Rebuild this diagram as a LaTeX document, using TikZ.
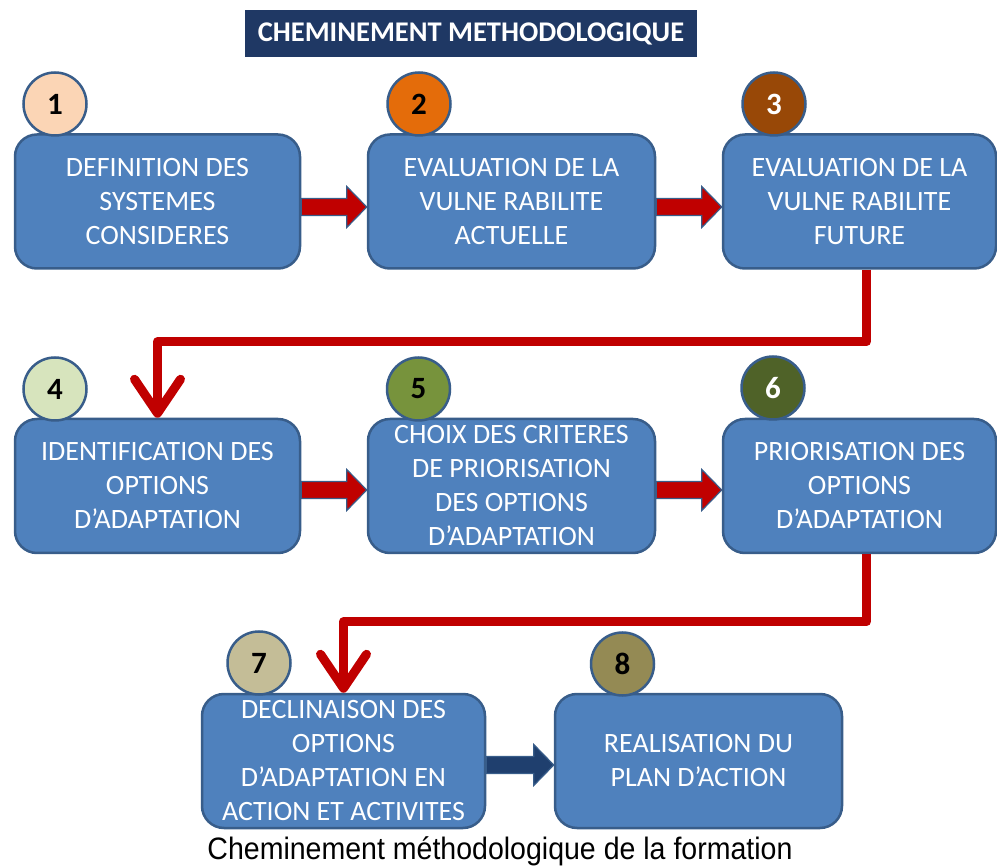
\documentclass[tikz,border=0pt]{standalone}
\usepackage{fontspec}
\setmainfont{Carlito}
\newfontfamily\capfont[FakeStretch=0.92]{Liberation Sans}
\usetikzlibrary{arrows.meta,calc}
\definecolor{boxfill}{HTML}{4F81BD}
\definecolor{boxline}{HTML}{385D8A}
\definecolor{navy}{HTML}{1F3864}
\definecolor{navyarrow}{HTML}{1F3F6E}
\definecolor{redc}{HTML}{C00000}
\definecolor{c1}{HTML}{FBD5B5}
\definecolor{c2}{HTML}{E46C0A}
\definecolor{c3}{HTML}{984807}
\definecolor{c4}{HTML}{D7E4BD}
\definecolor{c5}{HTML}{77933C}
\definecolor{c6}{HTML}{4F6228}
\definecolor{c7}{HTML}{C4BD97}
\definecolor{c8}{HTML}{948A54}
\tikzset{
  stepbox/.style={draw=boxline, line width=2.5pt, fill=boxfill, rounded corners=22pt,
    minimum height=134pt, inner sep=0pt, text=white, align=center,
    font=\fontsize{28}{34}\selectfont},
  numcirc/.style={circle, draw=boxline, line width=2.5pt, minimum size=63pt, inner sep=0pt,
    font=\fontsize{31}{31}\selectfont\bfseries},
  blockarrow/.style={draw=boxline, line width=1.2pt, line join=miter},
  redconn/.style={draw=redc, line width=9pt, line join=round,
    -{Straight Barb[length=34pt,width=46pt,round]}},
}
% block arrow between two anchors: #1 from, #2 to, #3 fill colour
\newcommand\blockarr[3]{%
  \draw[blockarrow, fill=#3] let \p1=(#1), \p2=(#2) in
    (\x1,\y1+8.5pt) -- (\x2-20pt,\y1+8.5pt) -- (\x2-20pt,\y1+20.5pt) -- (\x2,\y1)
    -- (\x2-20pt,\y1-20.5pt) -- (\x2-20pt,\y1-8.5pt) -- (\x1,\y1-8.5pt) -- cycle;}
\begin{document}
\begin{tikzpicture}[x=1pt,y=-1pt]
\useasboundingbox (0,0) rectangle (997,866);
% title
\node[fill=navy, minimum width=452pt, minimum height=47pt, inner sep=0pt, text=white,
  font=\fontsize{28.5}{28}\selectfont\bfseries] (title) at (471,33.5) {CHEMINEMENT METHODOLOGIQUE};
% boxes
\node[stepbox, minimum width=285pt] (b1) at (157.5,201.5) {DEFINITION DES\\SYSTEMES\\CONSIDERES};
\node[stepbox, minimum width=287pt] (b2) at (511.5,201.5) {EVALUATION DE LA\\VULNE RABILITE\\ACTUELLE};
\node[stepbox, minimum width=273pt] (b3) at (859.5,201.5) {EVALUATION DE LA\\VULNE RABILITE\\FUTURE};
\node[stepbox, minimum width=285pt] (b4) at (157.5,486) {IDENTIFICATION DES\\OPTIONS\\D’ADAPTATION};
\node[stepbox, minimum width=287pt] (b5) at (511.5,486) {CHOIX DES CRITERES\\DE PRIORISATION\\DES OPTIONS\\D’ADAPTATION};
\node[stepbox, minimum width=273pt] (b6) at (859.5,486) {PRIORISATION DES\\OPTIONS\\D’ADAPTATION};
\node[stepbox, minimum width=283pt] (b7) at (343.5,761) {DECLINAISON DES\\OPTIONS\\D’ADAPTATION EN\\ACTION ET ACTIVITES};
\node[stepbox, minimum width=287pt] (b8) at (698.5,761) {REALISATION DU\\PLAN D’ACTION};
% block arrows
\blockarr{[yshift=-5.5pt]b1.east}{[yshift=-5.5pt]b2.west}{redc}
\blockarr{[yshift=-5.5pt]b2.east}{[yshift=-5.5pt]b3.west}{redc}
\blockarr{[yshift=-4pt]b4.east}{[yshift=-4pt]b5.west}{redc}
\blockarr{[yshift=-4pt]b5.east}{[yshift=-4pt]b6.west}{redc}
\blockarr{[yshift=-4pt]b7.east}{[yshift=-4pt]b8.west}{navyarrow}
% red connectors
\draw[redconn] ([xshift=7pt]b3.south) |- ([yshift=76pt]b4.north) -- (b4.north);
\draw[redconn] ([xshift=7pt]b6.south) |- ([yshift=71pt]b7.north) -- (b7.north);
% number circles
\node[numcirc, fill=c1] (n1) at (55,104) {1};
\node[numcirc, fill=c2] (n2) at (419,104) {2};
\node[numcirc, fill=c3, text=white] (n3) at (774,104) {3};
\node[numcirc, fill=c4] (n4) at (55,389) {4};
\node[numcirc, fill=c5] (n5) at (418.5,389) {5};
\node[numcirc, fill=c6, text=white] (n6) at (773,388) {6};
\node[numcirc, fill=c7] (n7) at (259,663) {7};
\node[numcirc, fill=c8] (n8) at (622.5,664) {8};
% caption
\node[anchor=base, font=\capfont\fontsize{31}{31}\selectfont] (cap) at (500,859) {Cheminement méthodologique de la formation};
\end{tikzpicture}
\end{document}
